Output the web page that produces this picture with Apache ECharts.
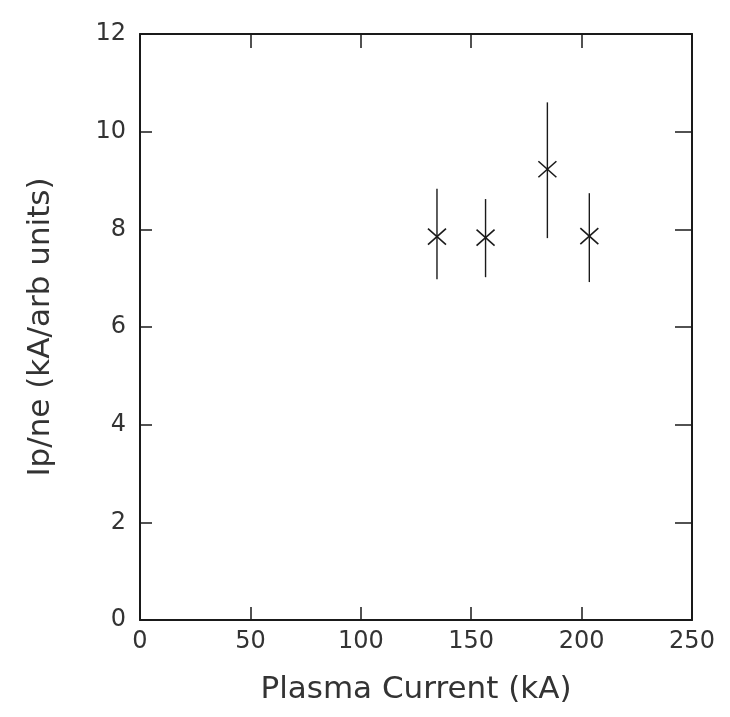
<!DOCTYPE html>
<html>
<head>
<meta charset="utf-8">
<script src="https://cdn.jsdelivr.net/npm/echarts@6/dist/echarts.min.js"></script>
<style>
  html, body { margin: 0; padding: 0; background: #fff; }
  #chart { width: 730px; height: 717px; }
</style>
</head>
<body>
<div id="chart"></div>
<script>
// Data
const plasmaCurrent = [134.5, 156.5, 184.5, 203.5];   // kA
const ipOverNe      = [7.85, 7.83, 9.23, 7.86];
const errHigh       = [8.83, 8.62, 10.6, 8.74];
const errLow        = [6.98, 7.02, 7.82, 6.92];

const xTicks = [0, 50, 100, 150, 200, 250];
const yTicks = [0, 2, 4, 6, 8, 10, 12];

const xTitle = 'Plasma Current (kA)';
const yTitle = 'Ip/ne (kA/arb units)';

const seriesData = plasmaCurrent.map((x, i) => [x, ipOverNe[i], errLow[i], errHigh[i]]);

const ink = '#1a1a1a';
const font = '"DejaVu Sans", sans-serif';

const chart = echarts.init(document.getElementById('chart'), null, { renderer: 'canvas' });

const baseX = {
  type: 'value', min: xTicks[0], max: xTicks[xTicks.length - 1], interval: 50,
  splitLine: { show: false },
  axisLine: { show: true, onZero: false, lineStyle: { color: ink, width: 2 } }
};
const baseY = {
  type: 'value', min: yTicks[0], max: yTicks[yTicks.length - 1], interval: 2,
  splitLine: { show: false },
  axisLine: { show: true, onZero: false, lineStyle: { color: ink, width: 2 } }
};

chart.setOption({
  backgroundColor: '#fff',
  animation: false,
  grid: { left: 140, right: 38, top: 34, bottom: 97 },
  xAxis: [
    Object.assign({}, baseX, {
      position: 'bottom',
      name: xTitle, nameLocation: 'middle', nameGap: 54,
      nameTextStyle: { fontFamily: font, fontSize: 31, color: '#333' },
      axisTick: { show: true, inside: true, length: 13, lineStyle: { color: ink, width: 1.5 } },
      axisLabel: { show: true, margin: 10, fontFamily: font, fontSize: 24, color: '#333' }
    }),
    Object.assign({}, baseX, {
      position: 'top',
      axisTick: { show: true, inside: true, length: 14, lineStyle: { color: ink, width: 1.5 } },
      axisLabel: { show: false }
    })
  ],
  yAxis: [
    Object.assign({}, baseY, {
      position: 'left',
      name: yTitle, nameLocation: 'middle', nameGap: 84,
      nameTextStyle: { fontFamily: font, fontSize: 31, color: '#333' },
      axisTick: { show: true, inside: true, length: 12, lineStyle: { color: ink, width: 1.5 } },
      axisLabel: { show: true, margin: 14, fontFamily: font, fontSize: 24, color: '#333' }
    }),
    Object.assign({}, baseY, {
      position: 'right',
      axisTick: { show: true, inside: true, length: 17, lineStyle: { color: ink, width: 1.5 } },
      axisLabel: { show: false }
    })
  ],
  series: [{
    type: 'custom',
    xAxisIndex: 0, yAxisIndex: 0,
    data: seriesData,
    renderItem: function (params, api) {
      const c = api.coord([api.value(0), api.value(1)]);
      const lo = api.coord([api.value(0), api.value(2)]);
      const hi = api.coord([api.value(0), api.value(3)]);
      const w = 9, h = 8;
      const st = { stroke: ink, lineWidth: 1.6, fill: null };
      return {
        type: 'group',
        children: [
          { type: 'line', shape: { x1: hi[0], y1: hi[1], x2: lo[0], y2: lo[1] }, style: { stroke: ink, lineWidth: 1.4 } },
          { type: 'line', shape: { x1: c[0] - w, y1: c[1] - h, x2: c[0] + w, y2: c[1] + h }, style: st },
          { type: 'line', shape: { x1: c[0] - w, y1: c[1] + h, x2: c[0] + w, y2: c[1] - h }, style: st }
        ]
      };
    }
  }]
});
</script>
</body>
</html>
